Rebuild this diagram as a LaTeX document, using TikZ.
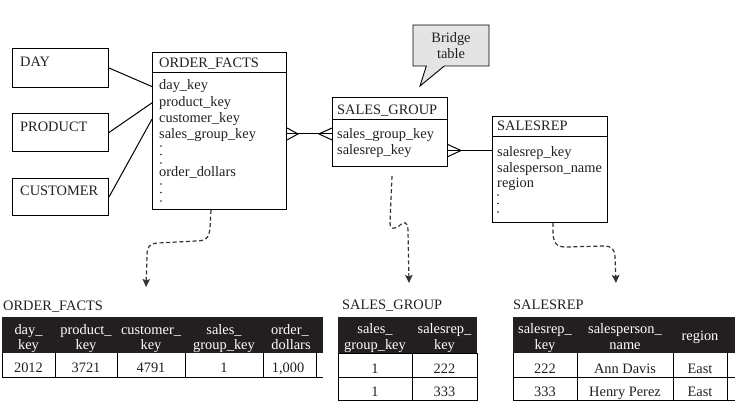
\documentclass[tikz,border=0pt]{standalone}
\usepackage{fontspec}
\setmainfont{Liberation Serif}
\usetikzlibrary{arrows.meta,shapes.callouts,calc}
\definecolor{ink}{HTML}{231F20}
\definecolor{hdrfill}{HTML}{231F20}
\definecolor{callgray}{RGB}{228,228,228}
\definecolor{dashcol}{HTML}{333333}
\tikzset{
  fnt/.style={font=\fontsize{14.4}{16}\selectfont},
  ent/.style={draw=black, line width=1pt, anchor=north west, inner sep=0pt},
  txt/.style={fnt, anchor=base west, inner sep=0pt, text=ink},
  ctxt/.style={fnt, anchor=base, inner sep=0pt, text=ink},
  htxt/.style={fnt, anchor=base, inner sep=0pt, text=white},
  conn/.style={draw=black, line width=1pt},
  tline/.style={draw=black, line width=1pt},
  dsh/.style={draw=dashcol, line width=1.2pt, dash pattern=on 4pt off 2.6pt,
              -{Stealth[length=8pt,width=7.5pt,inset=1.5pt]}},
  dotmark/.style={fill=ink},
}
\begin{document}
\begin{tikzpicture}[x=1pt,y=-1pt]
\useasboundingbox (0,0) rectangle (747,406);

% ---------- dimension boxes ----------
\node[ent, minimum width=96pt, minimum height=39pt] (day) at (12,48) {};
\node[txt] (daytxt) at (20,67) {DAY};
\node[ent, minimum width=96pt, minimum height=38pt] (prod) at (12,113) {};
\node[txt] (prodtxt) at (20,132) {PRODUCT};
\node[ent, minimum width=96pt, minimum height=37pt] (cust) at (12,178) {};
\node[txt] (custtxt) at (20,196) {CUSTOMER};

% ---------- ORDER_FACTS ----------
\node[ent, minimum width=134pt, minimum height=157pt] (of) at (152,52) {};
\draw[tline] ($(of.north west)+(0,21)$) -- ($(of.north east)+(0,21)$);
\node[txt] (oft) at (159,68) {ORDER\_FACTS};
\node[txt] (ofdk) at (159,90) {day\_key};
\node[txt] (ofpk) at (159,106.3) {product\_key};
\node[txt] (ofck) at (159,122.6) {customer\_key};
\node[txt] (ofsgk) at (159,138.9) {sales\_group\_key};
\fill[dotmark] (161,146) circle (0.9pt) (161,154.5) circle (0.9pt) (161,163) circle (0.9pt);
\node[txt] (ofod) at (159,177) {order\_dollars};
\fill[dotmark] (161,184) circle (0.9pt) (161,192.5) circle (0.9pt) (161,201) circle (0.9pt);

% ---------- SALES_GROUP ----------
\node[ent, minimum width=115pt, minimum height=69pt] (sg) at (332,97) {};
\draw[tline] ($(sg.north west)+(0,23)$) -- ($(sg.north east)+(0,23)$);
\node[txt] (sgt) at (337,115) {SALES\_GROUP};
\node[txt] (sgsgk) at (337,139) {sales\_group\_key};
\node[txt] (sgsrk) at (337,155) {salesrep\_key};

% ---------- SALESREP ----------
\node[ent, minimum width=115pt, minimum height=106pt] (sr) at (492,116) {};
\draw[tline] ($(sr.north west)+(0,21)$) -- ($(sr.north east)+(0,21)$);
\node[txt] (srt) at (497,131) {SALESREP};
\node[txt] (srsrk) at (497,157) {salesrep\_key};
\node[txt] (srsn) at (497,172.5) {salesperson\_name};
\node[txt] (srrg) at (497,188) {region};
\fill[dotmark] (498,195) circle (0.9pt) (498,203.5) circle (0.9pt) (498,212) circle (0.9pt);

% ---------- Bridge table callout ----------
\node[rectangle callout, draw=black, line width=0.9pt, fill=callgray,
      minimum width=76pt, minimum height=41pt, inner sep=0pt,
      callout absolute pointer={(420,86)}, callout pointer width=18pt,
      fnt, align=center, text=ink] (bridge) at (451,45.5) {Bridge\\table};

% ---------- connectors ----------
\draw[conn] (day.east) -- (of.west |- ofdk.west);
\draw[conn] (prod.east) -- (of.west |- ofpk.west);
\draw[conn] (cust.east) -- (of.west |- ofck.west);

\coordinate (c1) at ($(of.east |- ofsgk.west)+(0,-1.5)$);
\coordinate (c2) at (sg.west |- c1);
\draw[conn] (c1) -- (c2);
\draw[conn] ($(c1)+(0,-6)$) -- ($(c1)+(11,0)$) -- ($(c1)+(0,6)$);
\draw[conn] ($(c2)+(0,-6)$) -- ($(c2)+(-13,0)$) -- ($(c2)+(0,6)$);

\coordinate (c3) at ($(sg.east |- sgsrk.west)+(0,-1)$);
\coordinate (c4) at (sr.west |- c3);
\draw[conn] (c3) -- (c4);
\draw[conn] ($(c3)+(0,-6)$) -- ($(c3)+(13,0)$) -- ($(c3)+(0,6)$);

% ---------- dashed arrows ----------
\coordinate (a1s) at ($(of.south west)+(59,0)$);
\coordinate (a1e) at (146,287);
\draw[dsh] (a1s) -- (210,228) .. controls (209,239) and (205,241) .. (196,241)
  -- (158,243) .. controls (149,243.5) and (147,247) .. (147,256) -- (a1e);

\coordinate (a2s) at ($(sg.south west)+(60,9)$);
\coordinate (a2e) at (409,283);
\draw[dsh] (a2s) -- (390,223) .. controls (390,230) and (395,229) .. (399,226)
  .. controls (404,221) and (408,221) .. (408,231) -- (a2e);

\coordinate (a3s) at ($(sr.south west)+(61,0)$);
\coordinate (a3e) at (616,283);
\draw[dsh] (a3s) -- (553,234) .. controls (554,246) and (559,247) .. (567,247)
  -- (603,246) .. controls (612,246) and (615,249) .. (615,258) -- (a3e);

% ---------- table ORDER_FACTS ----------
\node[txt] (t1lab) at (3,310) {ORDER\_FACTS};
\fill[hdrfill] (2,317) rectangle (323,353);
\draw[tline] (2,353) -- (2,377) -- (323,377);
\foreach \xx in {55,117,185,263,316} {\draw[tline] (\xx,353) -- (\xx,377);}
\node[htxt] (t1h1a) at (28.5,334) {day\_};
\node[htxt] (t1h1b) at (28.5,349.5) {key};
\node[htxt] (t1h2a) at (86,334) {product\_};
\node[htxt] (t1h2b) at (86,349.5) {key};
\node[htxt] (t1h3a) at (151,334) {customer\_};
\node[htxt] (t1h3b) at (151,349.5) {key};
\node[htxt] (t1h4a) at (224,334) {sales\_};
\node[htxt] (t1h4b) at (224,349.5) {group\_key};
\node[htxt] (t1h5a) at (290,334) {order\_};
\node[htxt] (t1h5b) at (291,349.5) {dollars};
\node[ctxt] (t1d1) at (28.5,372.5) {2012};
\node[ctxt] (t1d2) at (86,372.5) {3721};
\node[ctxt] (t1d3) at (151,372.5) {4791};
\node[ctxt] (t1d4) at (224,372.5) {1};
\node[ctxt] (t1d5) at (288,372.5) {1,000};

% ---------- table SALES_GROUP ----------
\node[txt] (t2lab) at (342,309) {SALES\_GROUP};
\fill[hdrfill] (338,317) rectangle (477,353);
\draw[tline] (338,353) rectangle (477,400);
\draw[tline] (338,377) -- (477,377);
\draw[tline] (412,353) -- (412,400);
\node[htxt] (t2h1a) at (375,333.5) {sales\_};
\node[htxt] (t2h1b) at (375,349) {group\_key};
\node[htxt] (t2h2a) at (444.5,333.5) {salesrep\_};
\node[htxt] (t2h2b) at (444.5,349) {key};
\node[ctxt] (t2a1) at (375,373) {1};
\node[ctxt] (t2a2) at (444.5,373) {222};
\node[ctxt] (t2b1) at (375,396.5) {1};
\node[ctxt] (t2b2) at (444.5,396.5) {333};

% ---------- table SALESREP ----------
\node[txt] (t3lab) at (513,309) {SALESREP};
\fill[hdrfill] (513,317) rectangle (735,353);
\draw[tline] (513,353) -- (513,400) -- (735,400);
\draw[tline] (513,377) -- (735,377);
\foreach \xx in {577,673,727} {\draw[tline] (\xx,353) -- (\xx,400);}
\node[htxt] (t3h1a) at (545,333.5) {salesrep\_};
\node[htxt] (t3h1b) at (545,349) {key};
\node[htxt] (t3h2a) at (625,333.5) {salesperson\_};
\node[htxt] (t3h2b) at (625,349) {name};
\node[htxt] (t3h3) at (700,340.5) {region};
\node[ctxt] (t3a1) at (545,373) {222};
\node[ctxt] (t3a2) at (625,373) {Ann Davis};
\node[ctxt] (t3a3) at (700,373) {East};
\node[ctxt] (t3b1) at (545,396.5) {333};
\node[ctxt] (t3b2) at (625,396.5) {Henry Perez};
\node[ctxt] (t3b3) at (700,396.5) {East};
\end{tikzpicture}
\end{document}
